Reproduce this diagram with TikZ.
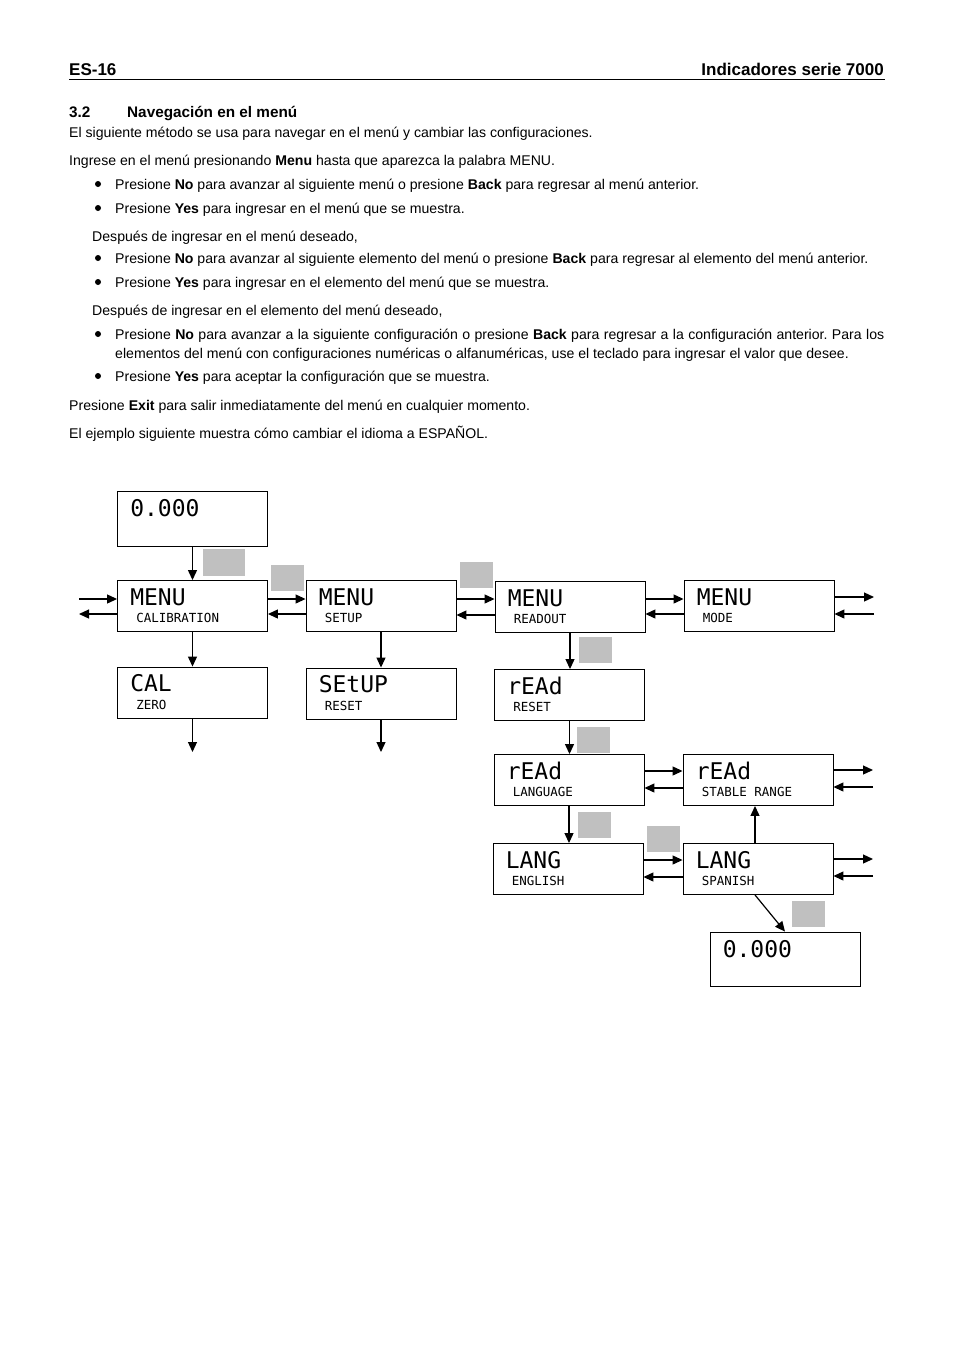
\documentclass[tikz,border=0pt]{standalone}
\usepackage{fontspec}
\usepackage{xcolor}
\setmainfont{Liberation Sans}
\newfontfamily\lcdfont{DejaVu Sans Mono}
\usetikzlibrary{arrows.meta}
\definecolor{keygray}{RGB}{192,192,192}
\frenchspacing

% display panel: name, x, y, top line, bottom line
\newcommand{\dispbox}[5]{%
    \node[lcd] (#1) at (#2,#3) {};
    \node[bigtxt] at ([xshift=13pt,yshift=-17pt]#1.north west) {#4};
    \node[smalltxt] at ([xshift=19pt,yshift=-38pt]#1.north west) {#5};
}

\begin{document}
\begin{tikzpicture}[x=1pt,y=-1pt,
    txt/.style={anchor=base west, inner sep=0, font=\fontsize{14.1}{17}\selectfont},
    head/.style={anchor=base west, inner sep=0, font=\fontsize{17}{19}\selectfont\bfseries},
    sechead/.style={anchor=base west, inner sep=0, font=\fontsize{15.3}{17}\selectfont\bfseries},
    lcd/.style={draw, line width=0.9pt, minimum width=150pt, minimum height=51pt, inner sep=0},
    bigtxt/.style={anchor=west, inner sep=0, font=\fontsize{23}{24}\selectfont\lcdfont},
    smalltxt/.style={anchor=west, inner sep=0, font=\fontsize{12.5}{13}\selectfont\lcdfont},
    key/.style={fill=keygray, inner sep=0, minimum width=33pt, minimum height=26pt},
    arr/.style={-{Triangle[length=10pt,width=9pt]}, line width=1.2pt}]
    \fill[white] (0,0) rectangle (954,1349);
    \useasboundingbox (0,0) rectangle (954,1349);

    % page header
    \node[head] (pg) at (69,75.5) {ES-16};
    \node[head, anchor=base east] (ttl) at (884,75.5) {Indicadores serie 7000};
    \draw[line width=0.8pt] (69,79.5) -- (885,79.5);
    \node[sechead] (sec) at (69,117.5) {3.2};
    \node[sechead] (secttl) at (127,117.5) {Navegación en el menú};

    % body text
    \node[txt] (t1) at (69,137) {El siguiente método se usa para navegar en el menú y cambiar las configuraciones.};
    \node[txt] (t2) at (69,165) {Ingrese en el menú presionando \textbf{Menu} hasta que aparezca la palabra MENU.};
    \node[txt] (t3) at (115,189) {Presione \textbf{No} para avanzar al siguiente menú o presione \textbf{Back} para regresar al menú anterior.};
    \node[txt] (t4) at (115,213) {Presione \textbf{Yes} para ingresar en el menú que se muestra.};
    \node[txt] (t5) at (92,241) {Después de ingresar en el menú deseado,};
    \node[txt] (t6) at (115,263) {Presione \textbf{No} para avanzar al siguiente elemento del menú o presione \textbf{Back} para regresar al elemento del menú anterior.};
    \node[txt] (t7) at (115,287) {Presione \textbf{Yes} para ingresar en el elemento del menú que se muestra.};
    \node[txt] (t8) at (92,315) {Después de ingresar en el elemento del menú deseado,};
    \node[txt] (t9) at (115,339) {\makebox[769pt][s]{Presione \textbf{No} para avanzar a la siguiente configuración o presione \textbf{Back} para regresar a la configuración anterior. Para los}};
    \node[txt] (t10) at (115,358) {elementos del menú con configuraciones numéricas o alfanuméricas, use el teclado para ingresar el valor que desee.};
    \node[txt] (t11) at (115,381) {Presione \textbf{Yes} para aceptar la configuración que se muestra.};
    \node[txt] (t12) at (69,410) {Presione \textbf{Exit} para salir inmediatamente del menú en cualquier momento.};
    \node[txt] (t13) at (69,438) {El ejemplo siguiente muestra cómo cambiar el idioma a ESPAÑOL.};
    \foreach \y in {184,208,258,282,334,376}
        \fill (98,\y) circle[radius=3pt];

    % displays
    \node[lcd, minimum height=55pt] (start) at (192.5,518.5) {};
    \node[bigtxt] at ([xshift=13pt,yshift=-18pt]start.north west) {0.000};
    \dispbox{menucal}{192.5}{606}{MENU}{CALIBRATION}
    \dispbox{menusetup}{381}{606}{MENU}{SETUP}
    \dispbox{menuread}{570}{607}{MENU}{READOUT}
    \dispbox{menumode}{759}{606}{MENU}{MODE}
    \dispbox{calzero}{192.5}{692.5}{CAL}{ZERO}
    \dispbox{setreset}{381}{693.5}{SEtUP}{RESET}
    \dispbox{readreset}{569.5}{695}{rEAd}{RESET}
    \dispbox{readlang}{569}{780}{rEAd}{LANGUAGE}
    \dispbox{readstab}{758}{780}{rEAd}{STABLE RANGE}
    \dispbox{langeng}{568}{869}{LANG}{ENGLISH}
    \dispbox{langspa}{758}{869}{LANG}{SPANISH}
    \node[lcd, minimum height=54pt] (done) at (785,959) {};
    \node[bigtxt] at ([xshift=13pt,yshift=-18pt]done.north west) {0.000};

    % keys
    \node[key, minimum width=42pt, minimum height=27pt] (k1) at (224,562.5) {};
    \node[key] (k2) at (287,578) {};
    \node[key] (k3) at (476,575) {};
    \node[key] (k4) at (595.5,650) {};
    \node[key] (k5) at (593.5,739.5) {};
    \node[key] (k6) at (594.5,825) {};
    \node[key] (k7) at (663.5,838.5) {};
    \node[key] (k8) at (808.5,913.5) {};

    % free ends
    \coordinate (inL) at (79,599);
    \coordinate (outL) at (79,614);
    \coordinate (inR) at (874,614);
    \coordinate (outR) at (874,597);
    \coordinate (calend) at (192.5,752);
    \coordinate (setend) at (381,752);
    \coordinate (stabout) at (873,770);
    \coordinate (stabin) at (873,787);
    \coordinate (spaout) at (873,859);
    \coordinate (spain) at (873,876);

    % menu row
    \draw[arr] (start) -- (menucal);
    \draw[arr] (inL) -- (inL -| menucal.west);
    \draw[arr] (outL -| menucal.west) -- (outL);
    \draw[arr] ([yshift=7pt]menucal.east) -- ([yshift=7pt]menusetup.west);
    \draw[arr] ([yshift=-8pt]menusetup.west) -- ([yshift=-8pt]menucal.east);
    \draw[arr] ([yshift=7pt]menusetup.east) -- ([yshift=7pt]menusetup.east -| menuread.west);
    \draw[arr] ([yshift=-8pt]menuread.west) -- ([yshift=-8pt]menuread.west -| menusetup.east);
    \draw[arr] ([yshift=8pt]menuread.east) -- ([yshift=8pt]menuread.east -| menumode.west);
    \draw[arr] ([yshift=-8pt]menumode.west) -- ([yshift=-8pt]menumode.west -| menuread.east);
    \draw[arr] (outR -| menumode.east) -- (outR);
    \draw[arr] (inR) -- (inR -| menumode.east);

    % down the menus
    \draw[arr] (menucal) -- (calzero);
    \draw[arr] (calzero) -- (calend);
    \draw[arr] (menusetup) -- (setreset);
    \draw[arr] (setreset) -- (setend);
    \draw[arr] (menuread.south) -- (menuread.south |- readreset.north);
    \draw[arr] (readreset.south) -- (readreset.south |- readlang.north);
    \draw[arr] (readlang.south) -- (readlang.south |- langeng.north);

    % language items
    \draw[arr] ([yshift=9pt]readlang.east) -- ([yshift=9pt]readstab.west);
    \draw[arr] ([yshift=-8pt]readstab.west) -- ([yshift=-8pt]readlang.east);
    \draw[arr] (stabout -| readstab.east) -- (stabout);
    \draw[arr] (stabin) -- (stabin -| readstab.east);
    \draw[arr] ([yshift=9pt]langeng.east) -- ([yshift=9pt]langspa.west);
    \draw[arr] ([yshift=-8pt]langspa.west) -- ([yshift=-8pt]langeng.east);
    \draw[arr] (spaout -| langspa.east) -- (spaout);
    \draw[arr] (spain) -- (spain -| langspa.east);
    \draw[arr] ([xshift=-3pt]langspa.north) -- ([xshift=-3pt]readstab.south);
    \draw[arr] ([xshift=-3pt]langspa.south) -- (done.north);
\end{tikzpicture}
\end{document}
